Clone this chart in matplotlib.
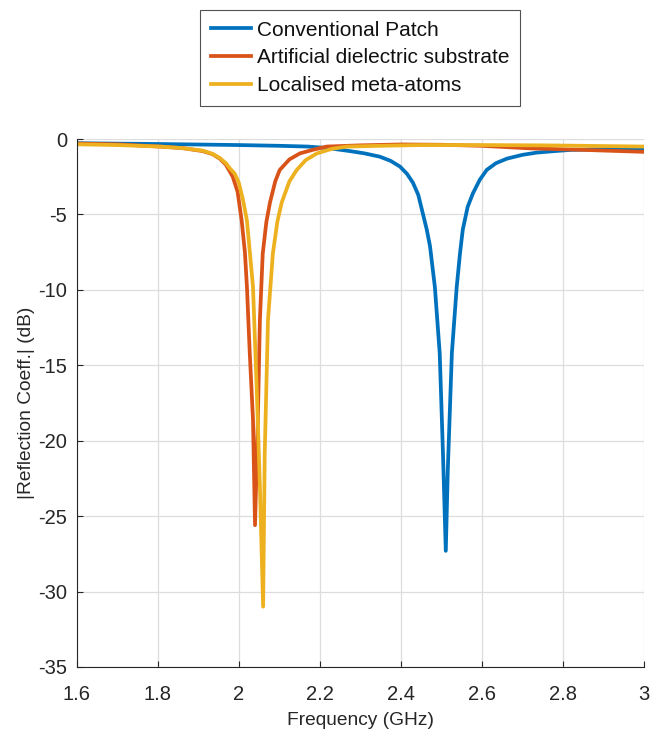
import matplotlib
matplotlib.use("Agg")
import matplotlib.pyplot as plt

plt.rcParams['font.family'] = ['Liberation Sans', 'DejaVu Sans']

# Conventional Patch
f_conv = [1.6, 1.8, 2.0, 2.1, 2.17, 2.22, 2.274, 2.31, 2.348, 2.375, 2.398, 2.415,
          2.43, 2.443, 2.454, 2.464, 2.472, 2.484, 2.496, 2.504, 2.511, 2.516, 2.526,
          2.538, 2.546, 2.553, 2.565, 2.578, 2.595, 2.612, 2.635, 2.662, 2.7, 2.736, 2.78,
          2.82, 2.9, 3.0]
s_conv = [-0.28, -0.33, -0.4, -0.45, -0.5, -0.6, -0.8, -0.95, -1.17, -1.45, -1.83, -2.3,
          -2.9, -3.7, -4.9, -6.0, -7.1, -9.8, -14.2, -20.8, -27.3, -21.9, -14.2,
          -9.8, -7.6, -6.0, -4.5, -3.6, -2.7, -2.05, -1.6, -1.3, -1.05, -0.9, -0.8,
          -0.72, -0.68, -0.65]

# Artificial dielectric substrate
f_ads = [1.6, 1.7, 1.805, 1.86, 1.911, 1.935, 1.953, 1.968, 1.985, 1.997, 2.007, 2.015,
         2.02, 2.027, 2.035, 2.04, 2.047, 2.052, 2.059, 2.068, 2.077, 2.09, 2.101,
         2.125, 2.151, 2.185, 2.217, 2.3, 2.4, 2.5, 2.6, 2.72, 2.85, 3.0]
s_ads = [-0.3, -0.35, -0.5, -0.6, -0.8, -1.0, -1.3, -1.7, -2.5, -3.5, -5.4, -7.5,
         -9.8, -14.2, -18.6, -25.6, -18.6, -12.0, -7.6, -5.5, -4.2, -2.8, -2.05,
         -1.35, -0.95, -0.7, -0.5, -0.42, -0.36, -0.38, -0.45, -0.62, -0.72, -0.85]

# Localised meta-atoms
f_lma = [1.6, 1.7, 1.805, 1.86, 1.911, 1.935, 1.953, 1.968, 1.978, 1.99, 2.0, 2.01,
         2.02, 2.035, 2.044, 2.052, 2.06, 2.064, 2.072, 2.084, 2.095, 2.106, 2.125,
         2.143, 2.165, 2.193, 2.23, 2.267, 2.35, 2.45, 2.6, 2.75, 2.85, 3.0]
s_lma = [-0.35, -0.4, -0.5, -0.6, -0.77, -0.98, -1.26, -1.6, -1.95, -2.3, -2.9, -4.0,
         -5.4, -9.8, -16.4, -23.0, -31.0, -20.8, -12.0, -7.6, -5.5, -4.2, -2.8,
         -2.05, -1.4, -0.95, -0.65, -0.5, -0.45, -0.4, -0.4, -0.42, -0.45, -0.5]

labels = ['Conventional Patch', 'Artificial dielectric substrate', 'Localised meta-atoms']
colors = ['#0072BD', '#D95319', '#EDB120']
xticks = [1.6, 1.8, 2.0, 2.2, 2.4, 2.6, 2.8, 3.0]
xticklabels = ['1.6', '1.8', '2', '2.2', '2.4', '2.6', '2.8', '3']
yticks = [0, -5, -10, -15, -20, -25, -30, -35]

fig = plt.figure(figsize=(6.51, 7.34), dpi=100)
ax = fig.add_axes([0.118, 0.0913, 0.871, 0.7193])

for f, s, lab, c in zip([f_conv, f_ads, f_lma], [s_conv, s_ads, s_lma], labels, colors):
    ax.plot(f, s, color=c, lw=2.7, label=lab, solid_joinstyle='round')

ax.set_xlim(1.6, 3.0)
ax.set_ylim(-35, 0)
ax.set_xticks(xticks)
ax.set_xticklabels(xticklabels)
ax.set_yticks(yticks)
ax.set_yticklabels([str(v) for v in yticks])
ax.grid(True, color='#dddddd', lw=0.9)
ax.set_axisbelow(True)
for sp in ['top', 'right']:
    ax.spines[sp].set_visible(False)
for sp in ['left', 'bottom']:
    ax.spines[sp].set_color('#262626')
    ax.spines[sp].set_linewidth(0.8)
ax.tick_params(direction='in', length=4, labelsize=14.5, colors='#262626',
               labelcolor='#262626')
ax.tick_params(axis='x', pad=13)
ax.tick_params(axis='y', pad=7)
ax.set_xlabel('Frequency (GHz)', fontsize=13.8, color='#262626', labelpad=6)
ax.set_ylabel('|Reflection Coeff.| (dB)', fontsize=13.8, color='#262626', labelpad=2)

leg = fig.legend(loc='upper center', bbox_to_anchor=(0.553, 0.986), fontsize=15,
                 frameon=True, fancybox=False, edgecolor='#262626', handlelength=1.95,
                 handletextpad=0.25, borderpad=0.5, labelspacing=0.42, borderaxespad=0)
leg.get_frame().set_linewidth(0.8)
for t in leg.get_texts():
    t.set_color('#111111')

fig.savefig('out.png', dpi=100)
